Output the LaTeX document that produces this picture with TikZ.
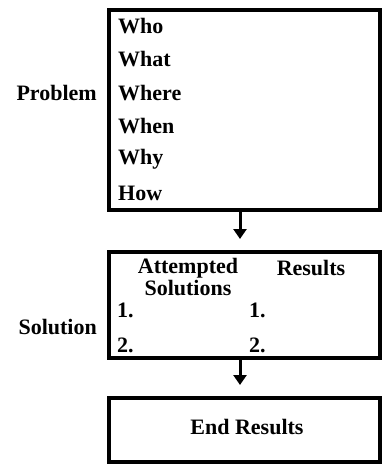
\documentclass[tikz,border=0pt]{standalone}
\usepackage{fontspec}
\setmainfont{Liberation Serif}
\usetikzlibrary{arrows.meta}

\begin{document}
\begin{tikzpicture}[x=1pt, y=-1pt,
  box/.style={draw, line width=4pt, inner sep=0pt},
  txt/.style={font=\fontsize{22}{22}\selectfont\bfseries, inner sep=0pt},
  arrow/.style={line width=3pt, -{Triangle[length=10pt,width=13pt]}, shorten >=11pt}]
  \useasboundingbox (0,0) rectangle (386,464);

  % Problem box and its questions
  \node[box, minimum width=271pt, minimum height=199.5pt] (problem) at (244.5,109.75) {};
  \node[txt, anchor=east] (problemlbl) at (97,93) {Problem};
  \foreach \w [count=\i from 0] in {Who,What,Where,When,Why,How}
    \node[txt, anchor=west] (q\i) at (118,26+33.4*\i) {\w};

  % Solution box with two columns
  \node[box, minimum width=271pt, minimum height=106pt] (solution) at (244.5,305) {};
  \node[txt, anchor=east] (solutionlbl) at (97,327) {Solution};
  \node[txt] (attempted) at (188,268) {Attempted};
  \node[txt, anchor=north] (attsol) at (188,280) {Solutions};
  \node[txt] (results) at (311,268) {Results};
  \node[txt, anchor=west] (aone) at (117,310) {1.};
  \node[txt, anchor=west] (atwo) at (117,345) {2.};
  \node[txt, anchor=west] (rone) at (249,310) {1.};
  \node[txt, anchor=west] (rtwo) at (249,345) {2.};

  % End results box
  \node[box, minimum width=271pt, minimum height=63.5pt] (endres) at (244.5,429.75) {};
  \node[txt] (endlbl) at (247,427) {End Results};

  % Arrows between the boxes
  \draw[arrow] ([xshift=-4.5pt]problem.south) -- ([xshift=-4.5pt]solution.north);
  \draw[arrow] ([xshift=-4.5pt]solution.south) -- ([xshift=-4.5pt]endres.north);
\end{tikzpicture}
\end{document}
